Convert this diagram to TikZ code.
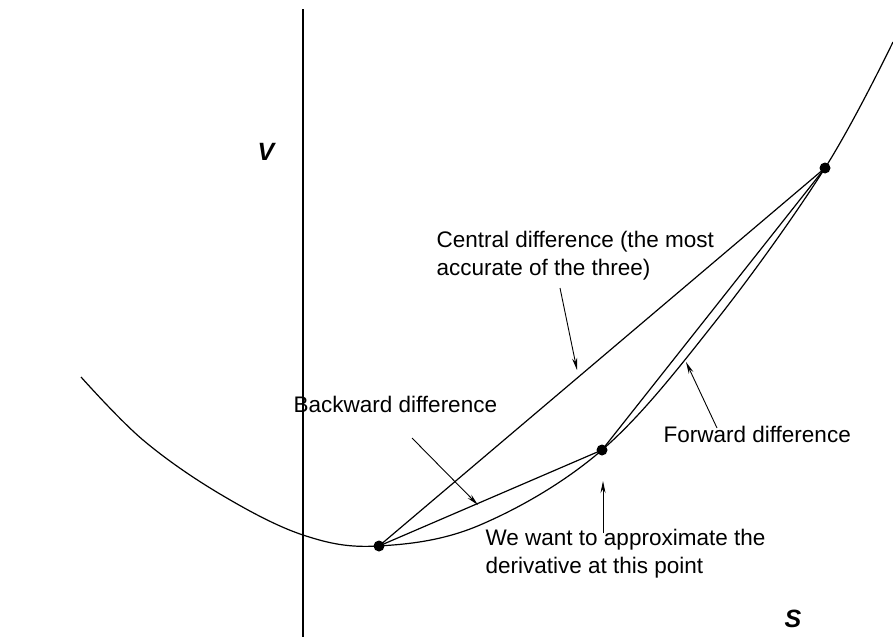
\documentclass[tikz,border=0pt]{standalone}
\usepackage{fontspec}
\setmainfont{Liberation Sans}
\usetikzlibrary{arrows.meta}
\begin{document}
\begin{tikzpicture}[x=1pt,y=-1pt,line width=1.2pt,line join=round,
  dot/.style={circle,fill=black,inner sep=0pt,minimum size=11pt},
  lbl/.style={anchor=base west,inner sep=0pt,font=\fontsize{22.5}{28}\selectfont},
  multilbl/.style={anchor=north west,inner sep=0pt,align=left,font=\fontsize{22.5}{28}\selectfont},
  axislbl/.style={anchor=base west,inner sep=0pt,font=\fontsize{25}{30}\selectfont\bfseries\itshape},
  ptr/.style={line width=0.9pt,-{Stealth[length=12pt,width=5pt]}}]
\useasboundingbox (0,0) rectangle (893,637);
% axis
\coordinate (axtop) at (303,9);
\coordinate (axbot) at (303,637);
\draw[line width=1.4pt] (axtop) -- (axbot);
% curve
\draw plot[smooth,tension=0.6] coordinates {(81,377) (143,440) (220,494) (303,535) (378,546) (480,525) (602,450) (715,322) (825,168) (893,42)};
% points
\node[dot] (A) at (379,546) {};
\node[dot] (B) at (602,450) {};
\node[dot] (C) at (825,168) {};
% chords
\draw (A.center) -- (C.center);
\draw (A.center) -- (B.center);
\draw (B.center) -- (C.center);
% labels
\node[axislbl] (V) at (257,160) {V};
\node[axislbl] (S) at (784,627) {S};
\node[multilbl] (central) at (436,231) {Central difference (the most\\accurate of the three)};
\node[lbl] (backward) at (293,412) {Backward difference};
\node[lbl] (forward) at (663,442) {Forward difference};
\node[multilbl] (want) at (485,529) {We want to approximate the\\derivative at this point};
% pointers
\coordinate (c0) at (560,288); \coordinate (c1) at (577,370);
\coordinate (b0) at (412,438); \coordinate (b1) at (478,505);
\coordinate (f0) at (717,428); \coordinate (f1) at (686,362);
\coordinate (w0) at (603,533); \coordinate (w1) at (603,481);
\draw[ptr] (c0) -- (c1);
\draw[ptr] (b0) -- (b1);
\draw[ptr] (f0) -- (f1);
\draw[ptr] (w0) -- (w1);
\end{tikzpicture}
\end{document}
